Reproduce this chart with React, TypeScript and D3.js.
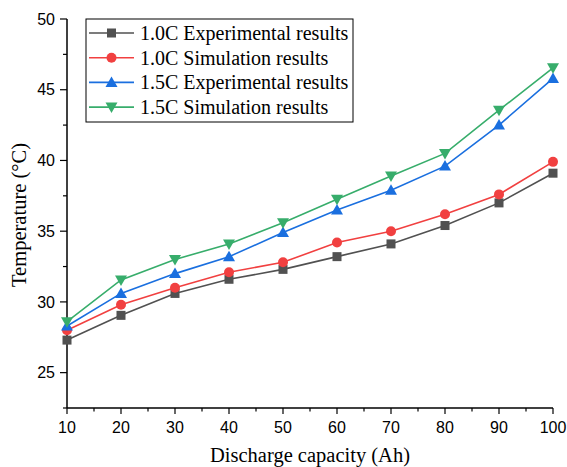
import React from "react";
import * as d3 from "d3";

const capacity = [10, 20, 30, 40, 50, 60, 70, 80, 90, 100];
const exp10 = [27.3, 29.05, 30.6, 31.6, 32.3, 33.2, 34.1, 35.4, 37.0, 39.1];
const sim10 = [28.0, 29.8, 31.0, 32.1, 32.8, 34.2, 35.0, 36.2, 37.6, 39.9];
const exp15 = [28.3, 30.6, 32.0, 33.2, 34.9, 36.5, 37.9, 39.6, 42.5, 45.8];
const sim15 = [28.6, 31.55, 33.0, 34.1, 35.6, 37.25, 38.9, 40.5, 43.55, 46.55];
const seriesNames = [
  "1.0C Experimental results",
  "1.0C Simulation results",
  "1.5C Experimental results",
  "1.5C Simulation results",
];
const seriesColors = ["#515151", "#F14040", "#1A6FDF", "#37AD6B"];
const seriesShapes = ["square", "circle", "triangle", "triangleDown"];
const xTicks = [10, 20, 30, 40, 50, 60, 70, 80, 90, 100];
const yTicks = [25, 30, 35, 40, 45, 50];

const W = 567;
const H = 467;
const left = 67;
const right = 553;
const top = 19;
const bottom = 408;

function Marker({ shape, x, y, color }: { shape: string; x: number; y: number; color: string }) {
  if (shape === "square") return <rect x={x - 4.5} y={y - 4.5} width={9} height={9} fill={color} />;
  if (shape === "circle") return <circle cx={x} cy={y} r={5} fill={color} />;
  if (shape === "triangle")
    return <path d={`M${x},${y - 6}L${x + 6},${y + 4.5}L${x - 6},${y + 4.5}Z`} fill={color} />;
  return <path d={`M${x},${y + 6}L${x + 6},${y - 4.5}L${x - 6},${y - 4.5}Z`} fill={color} />;
}

export default function App() {
  const x = d3.scaleLinear().domain([10, 100]).range([left, right]);
  const y = d3.scaleLinear().domain([22.5, 50]).range([bottom, top]);
  const all = [exp10, sim10, exp15, sim15];
  const line = d3
    .line<number>()
    .x((_, i) => x(capacity[i]))
    .y((d) => y(d));
  const xMinor = d3.range(15, 100, 10);
  const yMinor = d3.range(22.5, 50, 5);
  const serif = "'Liberation Serif', 'Times New Roman', serif";
  const sans = "'Liberation Sans', Arial, sans-serif";
  return (
    <svg width={W} height={H} style={{ position: "absolute", left: 0, top: 0, background: "#fff" }}>
      {/* axes */}
      <line x1={left} x2={left} y1={top} y2={bottom} stroke="#000" strokeWidth={1.5} />
      <line x1={left} x2={right} y1={bottom} y2={bottom} stroke="#000" strokeWidth={1.5} />
      {yTicks.map((t) => (
        <g key={"yt" + t}>
          <line x1={left - 7} x2={left} y1={y(t)} y2={y(t)} stroke="#000" strokeWidth={1.2} />
          <text x={left - 12} y={y(t)} dy="0.35em" textAnchor="end" fontFamily={sans} fontSize={16}>
            {t}
          </text>
        </g>
      ))}
      {yMinor.map((t) => (
        <line key={"ym" + t} x1={left - 4} x2={left} y1={y(t)} y2={y(t)} stroke="#000" strokeWidth={1.2} />
      ))}
      {xTicks.map((t) => (
        <g key={"xt" + t}>
          <line x1={x(t)} x2={x(t)} y1={bottom} y2={bottom + 6} stroke="#000" strokeWidth={1.2} />
          <text x={x(t)} y={bottom + 25} textAnchor="middle" fontFamily={sans} fontSize={16}>
            {t}
          </text>
        </g>
      ))}
      {xMinor.map((t) => (
        <line key={"xm" + t} x1={x(t)} x2={x(t)} y1={bottom} y2={bottom + 3.5} stroke="#000" strokeWidth={1.2} />
      ))}
      <text x={310} y={462} textAnchor="middle" fontFamily={serif} fontSize={20.5}>
        Discharge capacity (Ah)
      </text>
      <text
        transform={`translate(26,${(125 + 305) / 2}) rotate(-90)`}
        textAnchor="middle"
        fontFamily={serif}
        fontSize={20.5}
      >
        Temperature (°C)
      </text>
      {/* series */}
      {all.map((s, k) => (
        <g key={"s" + k}>
          <path d={line(s) || ""} fill="none" stroke={seriesColors[k]} strokeWidth={1.6} />
          {s.map((v, i) => (
            <Marker key={i} shape={seriesShapes[k]} x={x(capacity[i])} y={y(v)} color={seriesColors[k]} />
          ))}
        </g>
      ))}
      {/* legend */}
      <rect x={86} y={19} width={267} height={103} fill="#fff" stroke="#000" strokeWidth={1} />
      {seriesNames.map((n, k) => {
        const ly = 33 + k * 24.7;
        return (
          <g key={"l" + k}>
            <line x1={89} x2={134} y1={ly} y2={ly} stroke={seriesColors[k]} strokeWidth={1.6} />
            <Marker shape={seriesShapes[k]} x={111.5} y={ly} color={seriesColors[k]} />
            <text x={140} y={ly} dy="0.35em" fontFamily={serif} fontSize={20}>
              {n}
            </text>
          </g>
        );
      })}
    </svg>
  );
}
